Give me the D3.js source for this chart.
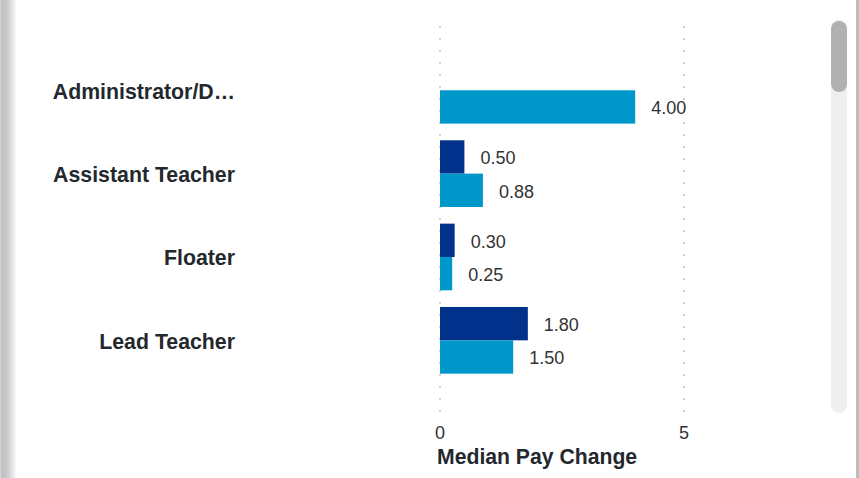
<!DOCTYPE html>
<html>
<head>
<meta charset="utf-8">
<script src="https://d3js.org/d3.v7.min.js"></script>
<style>
    body { margin: 0; background: #fff; overflow: hidden; }
    svg { display: block; font-family: "Liberation Sans", Arial, Helvetica, sans-serif; }
    .catlabel { font-weight: bold; font-size: 21.3px; fill: #23282e; }
    .vallabel { font-size: 18px; fill: #333; }
    .ticklabel { font-size: 18px; fill: #333; }
</style>
</head>
<body>
<svg id="chart" width="859" height="478"></svg>
<script>
var roles = ["Administrator/D\u2026", "Assistant Teacher", "Floater", "Lead Teacher"];
var seriesNames = ["Previous", "Current"];
var previousPay = [null, 0.50, 0.30, 1.80];
var currentPay = [4.00, 0.88, 0.25, 1.50];
var xTicks = [0, 5];
var axisTitle = "Median Pay Change";
var colors = ["#01318a", "#0098ca"];

function drawChart() {
    var svg = d3.select("#chart");
    var width = +svg.attr("width");
    var height = +svg.attr("height");

    // left panel shadow
    var grad = svg.append("defs").append("linearGradient")
	.attr("id", "shadow");
    grad.append("stop").attr("offset", "0%").attr("stop-color", "#d6d7d9");
    grad.append("stop").attr("offset", "12%").attr("stop-color", "#bfc0c3");
    grad.append("stop").attr("offset", "40%").attr("stop-color", "#c8c9cb");
    grad.append("stop").attr("offset", "85%").attr("stop-color", "#f1f1f1");
    grad.append("stop").attr("offset", "100%").attr("stop-color", "#ffffff");
    svg.append("rect")
	.attr("x", 0).attr("y", 0)
	.attr("width", 17).attr("height", height)
	.style("fill", "url(#shadow)");

    // right border + scrollbar
    svg.append("rect")
	.attr("x", 856).attr("y", 0)
	.attr("width", 3).attr("height", height)
	.style("fill", "#babcbf");
    svg.append("rect")
	.attr("x", 831).attr("y", 20)
	.attr("width", 16).attr("height", 393)
	.attr("rx", 8)
	.style("fill", "#efefef");
    svg.append("rect")
	.attr("x", 831).attr("y", 21)
	.attr("width", 16).attr("height", 71)
	.attr("rx", 8)
	.style("fill", "#b1b1b1");

    var x = d3.scaleLinear().domain([0, 5]).range([440, 684]);
    var y = d3.scaleBand().domain(roles)
	.range([48.6, 382])
	.paddingInner(0.2)
	.paddingOuter(0.1);
    var sub = d3.scaleBand().domain(seriesNames)
	.range([0, y.bandwidth()]);

    var g = svg.append("g");

    // dotted grid
    g.selectAll(".grid")
	.data(xTicks)
	.enter().append("line")
	.attr("class", "grid")
	.attr("x1", d => x(d))
	.attr("x2", d => x(d))
	.attr("y1", 26)
	.attr("y2", 413)
	.style("stroke", "#d2d2d2")
	.style("stroke-width", 2)
	.style("stroke-dasharray", "2,10");

    var tidy = [];
    roles.forEach(function(r, i) {
	tidy.push({role: r, series: seriesNames[0], value: previousPay[i], c: colors[0]});
	tidy.push({role: r, series: seriesNames[1], value: currentPay[i], c: colors[1]});
    });
    tidy = tidy.filter(d => d.value !== null);

    g.selectAll(".bar")
	.data(tidy)
	.enter().append("rect")
	.attr("class", "bar")
	.attr("x", x(0))
	.attr("y", d => y(d.role) + sub(d.series))
	.attr("width", d => x(d.value) - x(0))
	.attr("height", sub.bandwidth())
	.style("fill", d => d.c);

    g.selectAll(".vallabel")
	.data(tidy)
	.enter().append("text")
	.attr("class", "vallabel")
	.attr("x", d => x(d.value) + 16)
	.attr("y", d => y(d.role) + sub(d.series) + sub.bandwidth() / 2 + 1.5)
	.attr("dominant-baseline", "central")
	.text(d => d.value.toFixed(2));

    g.selectAll(".catlabel")
	.data(roles)
	.enter().append("text")
	.attr("class", "catlabel")
	.attr("x", 235)
	.attr("y", d => y(d) + y.bandwidth() / 2 + 1.5)
	.attr("text-anchor", "end")
	.attr("dominant-baseline", "central")
	.text(d => d);

    g.selectAll(".ticklabel")
	.data(xTicks)
	.enter().append("text")
	.attr("class", "ticklabel")
	.attr("x", d => x(d))
	.attr("y", 439)
	.attr("text-anchor", "middle")
	.text(d => d);

    g.append("text")
	.attr("x", 437)
	.attr("y", 464)
	.style("font-weight", "bold")
	.style("font-size", "21.2px")
	.style("fill", "#23282e")
	.text(axisTitle);
}

drawChart();
</script>
</body>
</html>
